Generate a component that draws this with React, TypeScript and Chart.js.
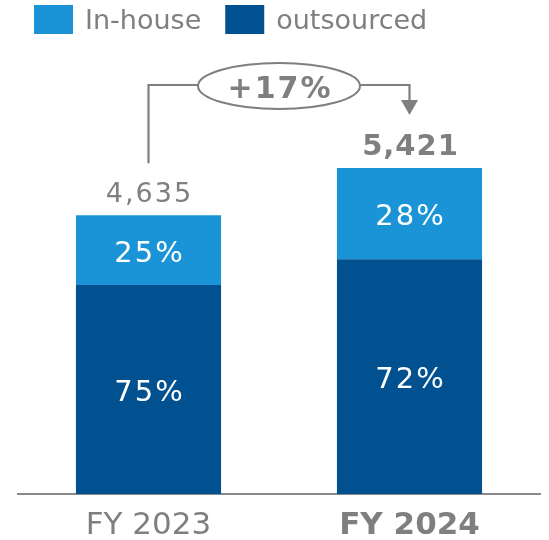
import React, { useEffect, useRef } from "react";
import { Chart, registerables } from "chart.js";

Chart.register(...registerables);

// ---- data ----
const categories = ["FY 2023", "FY 2024"];
const seriesNames = ["In-house", "outsourced"];
const inHouse = [1159, 1518];
const outsourced = [3476, 3903];

// ---- style ----
const LIGHT = "#1a94d6";
const DARK = "#01508f";
const GRAY = "#7f7f7f";
const FONT = "'DejaVu Sans', sans-serif";
const CAP = 0.729; // cap height ratio of DejaVu Sans

const totals = categories.map((_, i) => inHouse[i] + outsourced[i]);
const fmt = (n: number) => n.toLocaleString("en-US");

function textCentered(ctx: CanvasRenderingContext2D, s: string, x: number, cy: number, size: number) {
  ctx.fillText(s, x, cy + (CAP * size) / 2);
}

const legendPlugin = {
  id: "customLegend",
  afterDraw(chart: any) {
    const ctx: CanvasRenderingContext2D = chart.ctx;
    ctx.save();
    const size = 27;
    ctx.font = `${size}px ${FONT}`;
    ctx.textAlign = "left";
    ctx.textBaseline = "alphabetic";
    const boxW = 39, boxH = 29, top = 5;
    let x = 34;
    const order = chart.data.datasets.map((_: any, i: number) => i).reverse();
    order.forEach((di: number) => {
      const ds = chart.data.datasets[di];
      ctx.fillStyle = ds.backgroundColor;
      ctx.fillRect(x, top, boxW, boxH);
      ctx.fillStyle = GRAY;
      const tx = x + boxW + 12;
      textCentered(ctx, ds.label, tx, top + boxH / 2, size);
      x = tx + ctx.measureText(ds.label).width + 24;
    });
    ctx.restore();
  },
};

const annotationPlugin = {
  id: "annotations",
  afterDatasetsDraw(chart: any) {
    const ctx: CanvasRenderingContext2D = chart.ctx as any;
    const metaOut = chart.getDatasetMeta(0);
    const metaIn = chart.getDatasetMeta(1);
    const last = categories.length - 1;
    ctx.save();
    ctx.textAlign = "center";
    ctx.textBaseline = "alphabetic";

    // segment percentages
    const segSize = 29;
    ctx.font = `${segSize}px ${FONT}`;
    (ctx as any).letterSpacing = "2px";
    ctx.fillStyle = "#ffffff";
    [
      { meta: metaOut, vals: outsourced },
      { meta: metaIn, vals: inHouse },
    ].forEach(({ meta, vals }) => {
      meta.data.forEach((bar: any, i: number) => {
        const pct = Math.round((vals[i] / totals[i]) * 100);
        textCentered(ctx, pct + "%", bar.x + 1, (bar.y + bar.base) / 2 + 1, segSize);
      });
    });

    // totals above bars
    ctx.fillStyle = GRAY;
    metaIn.data.forEach((bar: any, i: number) => {
      const isLast = i === last;
      ctx.font = `${isLast ? "bold " : ""}${isLast ? 29 : 27}px ${FONT}`;
      (ctx as any).letterSpacing = isLast ? "1px" : "2px";
      ctx.fillText(fmt(totals[i]), bar.x + 1, bar.y - 13);
    });

    // growth bracket
    const b0 = metaIn.data[0];
    const b1 = metaIn.data[last];
    const lineY = Math.min(b0.y, b1.y) - 83;
    const startY = b0.y - 52;
    const tipY = b1.y - 53;
    const cx = (b0.x + b1.x) / 2;
    const rx = 81, ry = 23;
    ctx.strokeStyle = GRAY;
    ctx.lineWidth = 2.2;
    ctx.beginPath();
    ctx.moveTo(b0.x, startY);
    ctx.lineTo(b0.x, lineY);
    ctx.lineTo(cx - rx, lineY);
    ctx.stroke();
    ctx.beginPath();
    ctx.moveTo(cx + rx, lineY);
    ctx.lineTo(b1.x, lineY);
    ctx.lineTo(b1.x, tipY - 12);
    ctx.stroke();
    ctx.fillStyle = GRAY;
    ctx.beginPath();
    ctx.moveTo(b1.x - 8.5, tipY - 15);
    ctx.lineTo(b1.x + 8.5, tipY - 15);
    ctx.lineTo(b1.x, tipY);
    ctx.closePath();
    ctx.fill();
    ctx.beginPath();
    ctx.ellipse(cx, lineY + 1, rx, ry, 0, 0, Math.PI * 2);
    ctx.lineWidth = 2;
    ctx.stroke();
    const growth = Math.round((totals[last] / totals[0] - 1) * 100);
    const gSize = 30;
    ctx.font = `bold ${gSize}px ${FONT}`;
    (ctx as any).letterSpacing = "2px";
    textCentered(ctx, (growth >= 0 ? "+" : "") + growth + "%", cx + 1, lineY + 2, gSize);
    ctx.restore();
  },
};

export default function App() {
  const ref = useRef<HTMLCanvasElement | null>(null);
  useEffect(() => {
    if (!ref.current) return;
    const last = categories.length - 1;
    const chart = new Chart(ref.current, {
      type: "bar",
      data: {
        labels: categories,
        datasets: [
          { label: seriesNames[1], data: outsourced, backgroundColor: DARK, stack: "s" },
          { label: seriesNames[0], data: inHouse, backgroundColor: LIGHT, stack: "s" },
        ],
      },
      options: {
        animation: false,
        responsive: false,
        events: [],
        layout: { padding: { top: 61, left: 18, right: 9, bottom: 0 } },
        datasets: { bar: { categoryPercentage: 1, barPercentage: 0.556 } } as any,
        plugins: {
          legend: { display: false },
          tooltip: { enabled: false },
        },
        scales: {
          x: {
            stacked: true,
            grid: { display: false, drawTicks: false },
            border: { display: true, color: "#8a8a8a", width: 2 },
            ticks: {
              color: GRAY,
              padding: 16,
              font: (c: any) => ({
                family: FONT,
                size: 31,
                weight: c.index === last ? "bold" : "normal",
                lineHeight: 1,
              }),
            },
          },
          y: { stacked: true, display: false, min: 0, max: 7200 },
        },
      },
      plugins: [annotationPlugin, legendPlugin],
    });
    return () => chart.destroy();
  }, []);
  return (
    <div
      style={{
        position: "fixed",
        left: 0,
        top: 0,
        width: 549,
        height: 540,
        overflow: "hidden",
        background: "#fff",
      }}
    >
      <canvas ref={ref} width={549} height={557} style={{ display: "block" }} />
    </div>
  );
}
